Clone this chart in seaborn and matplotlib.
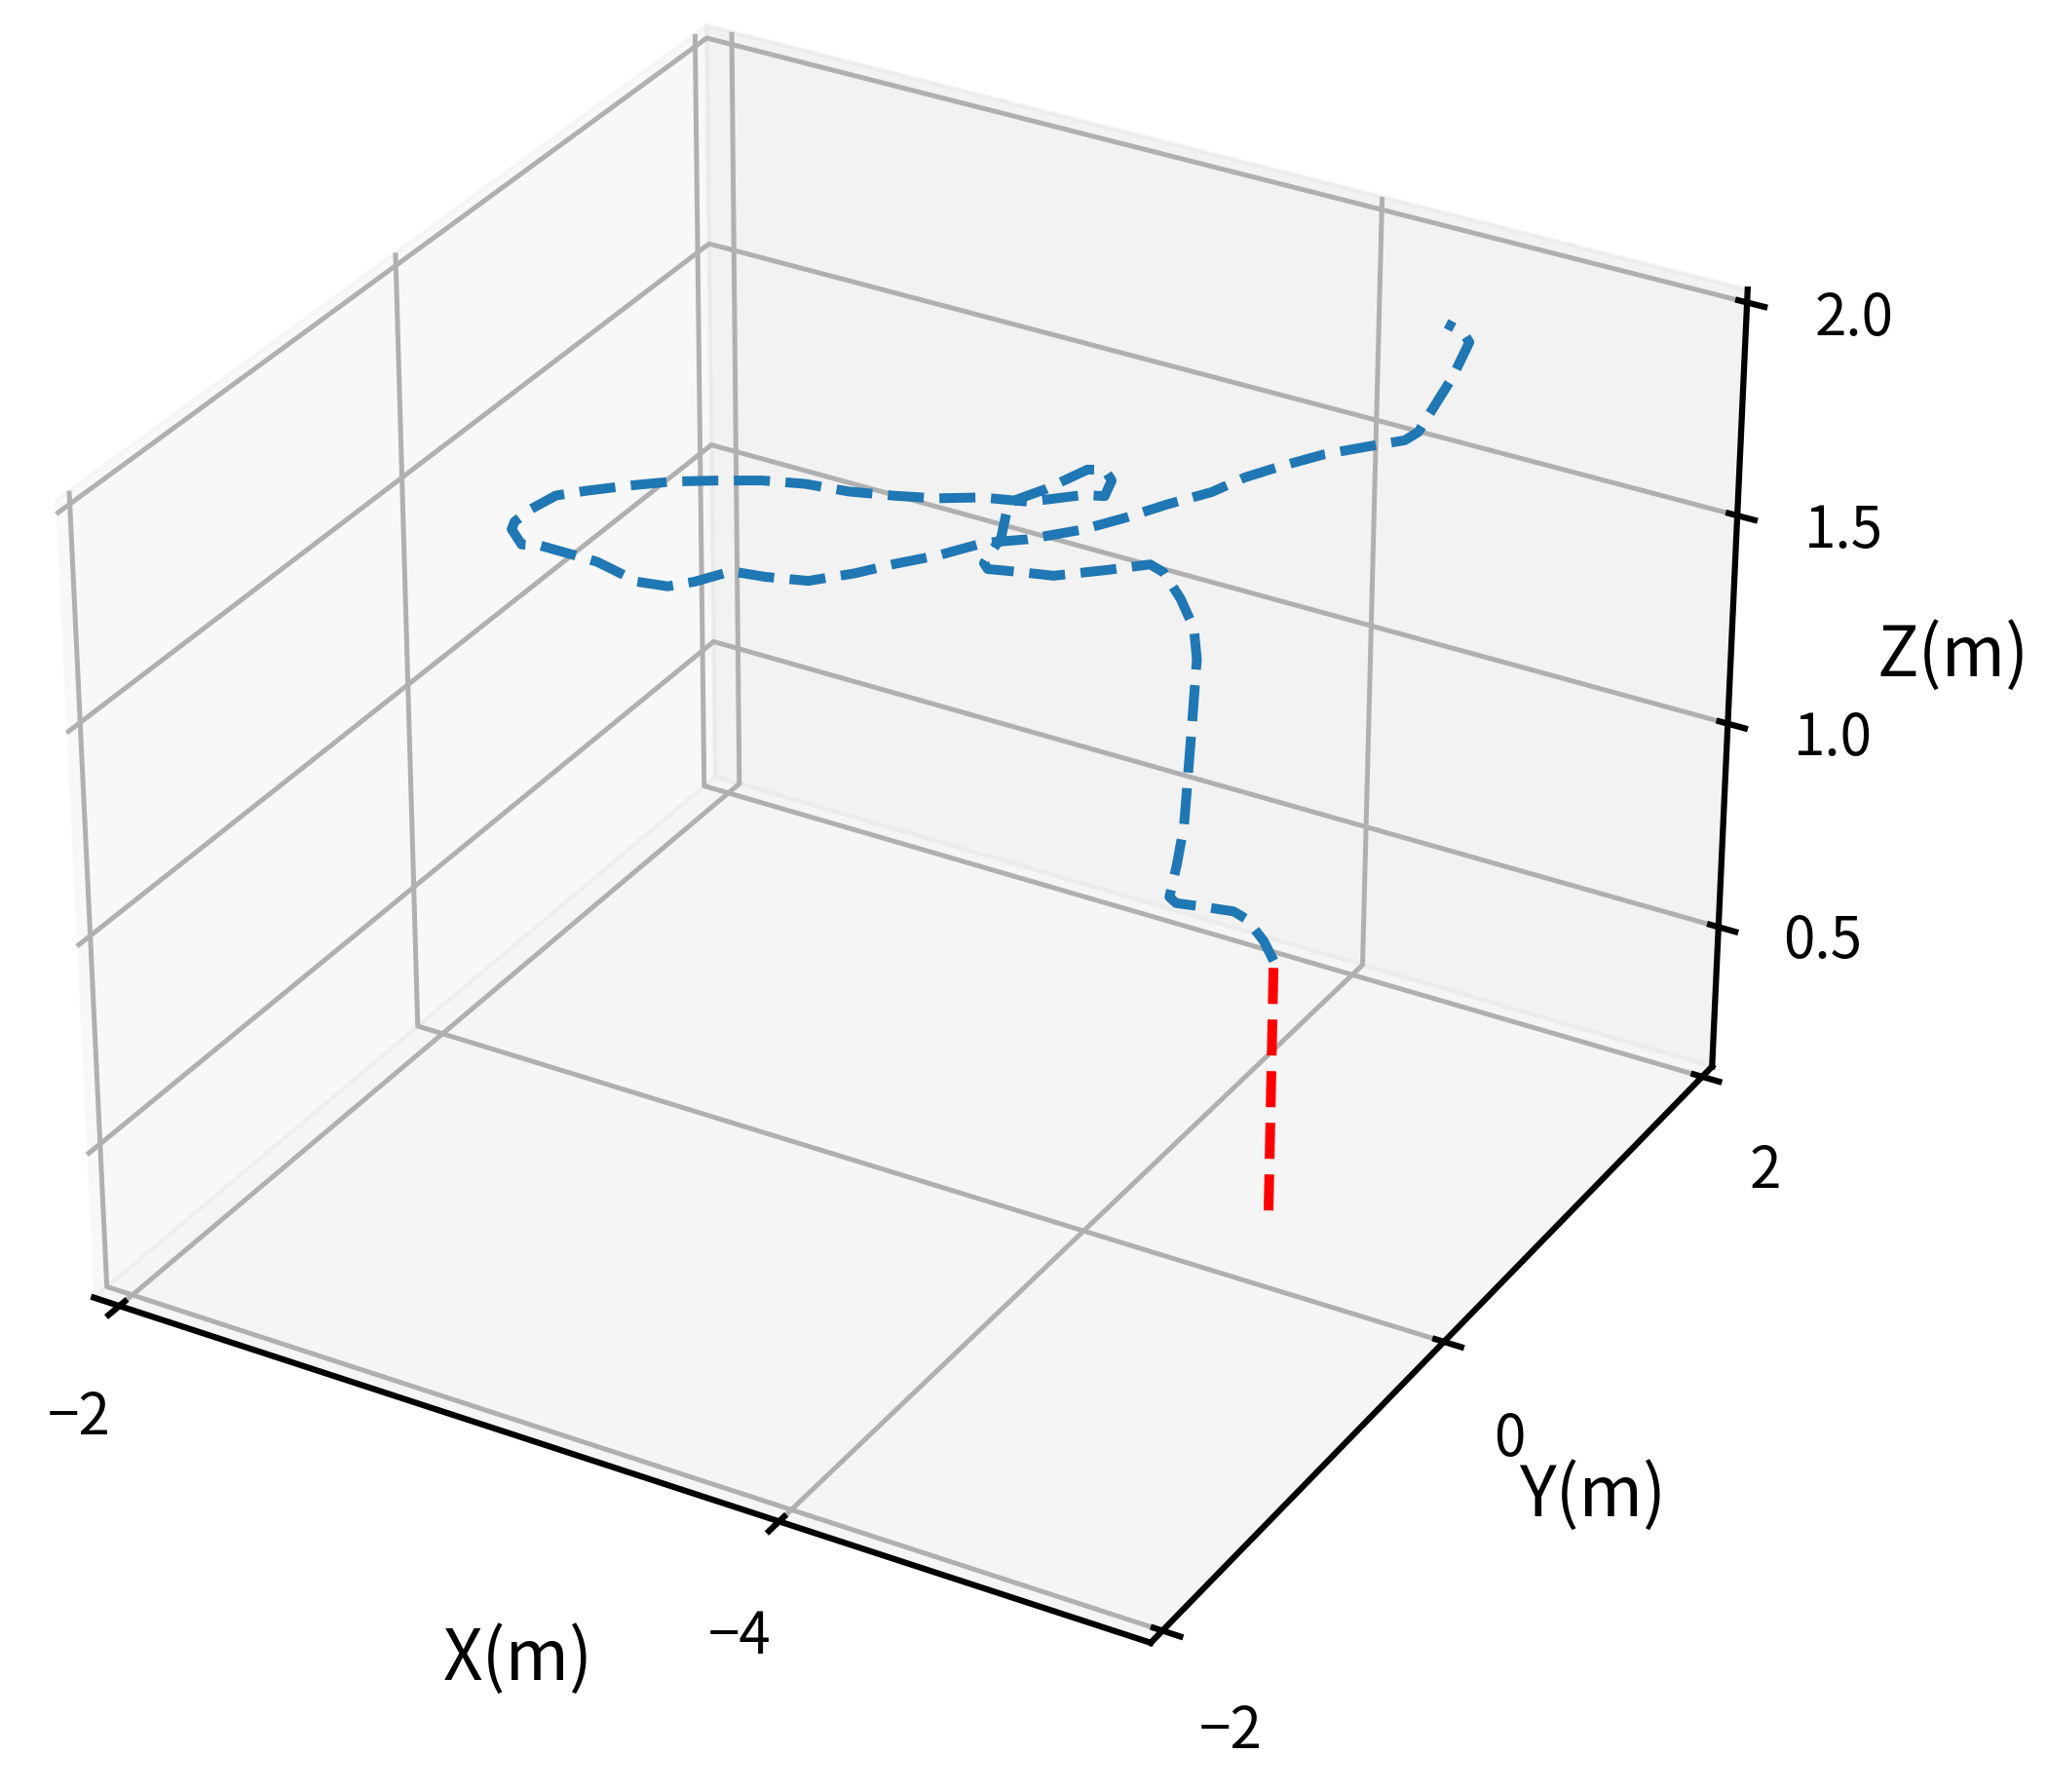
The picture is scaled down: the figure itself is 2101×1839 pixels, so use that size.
"""
3D flight trajectory plot
"""
import matplotlib
matplotlib.use('Agg')
import matplotlib.pyplot as plt
import seaborn as sns

# takeoff segment
takeoff_x = [-4.43, -4.43]
takeoff_y = [0.30, 0.30]
takeoff_z = [0.21, 0.81]

# flight path
flight_x = [-4.43, -4.40, -4.35, -4.31, -4.22, -4.14, -4.12, -4.14, -4.16, -4.17, -4.18, -4.19, -4.18,
            -4.14, -4.09, -4.05, -3.95, -3.81, -3.72, -3.68, -3.69, -3.71, -3.74, -3.75, -3.76,
            -3.79, -3.87, -3.99, -4.04, -4.06, -4.04, -3.98, -3.82, -3.68, -3.55, -3.43, -3.29,
            -3.16, -3.03, -2.89, -2.76, -2.62, -2.49, -2.40, -2.32, -2.27, -2.26, -2.29, -2.35,
            -2.44, -2.50, -2.60, -2.67, -2.73, -2.82, -2.90, -3.01, -3.13, -3.23, -3.34, -3.43,
            -3.52, -3.64, -3.73, -3.81, -3.90, -3.96, -4.02, -4.11, -4.20, -4.29, -4.31, -4.32,
            -4.31, -4.30, -4.28, -4.23]
flight_y = [0.30, 0.30, 0.30, 0.30, 0.30, 0.30, 0.30, 0.30, 0.30, 0.30, 0.30, 0.30, 0.30,
            0.30, 0.30, 0.30, 0.25, 0.20, 0.10, 0.05, 0.00, 0.00, 0.00, 0.00, 0.00,
            0.00, 0.00, 0.00, 0.00, 0.00, 0.00, 0.00, 0.00, 0.00, 0.00, 0.00, 0.00,
            0.00, 0.00, 0.00, 0.00, 0.00, 0.00, 0.00, 0.00, 0.00, 0.00, 0.00, 0.00,
            0.00, 0.05, 0.10, 0.15, 0.20, 0.25, 0.30, 0.35, 0.40, 0.45, 0.50, 0.60,
            0.70, 0.80, 0.90, 1.00, 1.10, 1.20, 1.30, 1.40, 1.50, 1.55, 1.60, 1.70,
            1.85, 2.00, 2.00, 2.00]
flight_z = [0.82, 0.86, 0.90, 0.91, 0.90, 0.89, 0.90, 0.98, 1.08, 1.21, 1.34, 1.48, 1.55,
            1.61, 1.66, 1.67, 1.65, 1.62, 1.64, 1.65, 1.68, 1.71, 1.75, 1.79, 1.83,
            1.85, 1.89, 1.96, 1.97, 1.95, 1.91, 1.90, 1.85, 1.83, 1.80, 1.78, 1.76,
            1.75, 1.73, 1.70, 1.67, 1.63, 1.59, 1.56, 1.51, 1.47, 1.45, 1.42, 1.43,
            1.43, 1.41, 1.37, 1.36, 1.37, 1.40, 1.39, 1.39, 1.42, 1.45, 1.48, 1.50,
            1.50, 1.52, 1.54, 1.56, 1.58, 1.60, 1.61, 1.63, 1.64, 1.66, 1.67, 1.71,
            1.73, 1.77, 1.79, 1.80]

# tick values
x_ticks = [-2, -4]
y_ticks = [-2, 0, 2]
z_ticks = [0.5, 1.0, 1.5, 2.0]

sns.set_palette('tab10')
plt.rcParams['font.family'] = ['Noto Sans CJK SC', 'DejaVu Sans']
plt.rcParams['axes.linewidth'] = 1.5
plt.rcParams['grid.linewidth'] = 1.2
plt.rcParams['xtick.major.width'] = 1.5
plt.rcParams['ytick.major.width'] = 1.5

fig = plt.figure(figsize=(2101 / 300, 1839 / 300), dpi=300)
ax = fig.add_axes([-0.039, 0.017, 0.95, 1.05], projection='3d')

ax.plot(flight_x, flight_y, flight_z, color=sns.color_palette('tab10')[0], linestyle='--', linewidth=2.4)
ax.plot(takeoff_x, takeoff_y, takeoff_z, color='red', linestyle='--', linewidth=2.4)

ax.set_xlim(-1.92, -5.07)
ax.set_ylim(-2.08, 2.08)
ax.set_zlim(0.15, 2.03)
ax.set_xticks(x_ticks)
ax.set_yticks(y_ticks)
ax.set_zticks(z_ticks)
ax.tick_params(axis='both', labelsize=14)
ax.tick_params(axis='x', pad=7)
ax.tick_params(axis='y', pad=7)
ax.tick_params(axis='z', pad=8)
ax.set_xlabel('X(m)', fontsize=17, labelpad=13)
ax.set_ylabel('Y(m)', fontsize=17, labelpad=13)
ax.set_zlabel('Z(m)', fontsize=17, labelpad=13)

plt.savefig('out.png', dpi=300)
plt.close()
